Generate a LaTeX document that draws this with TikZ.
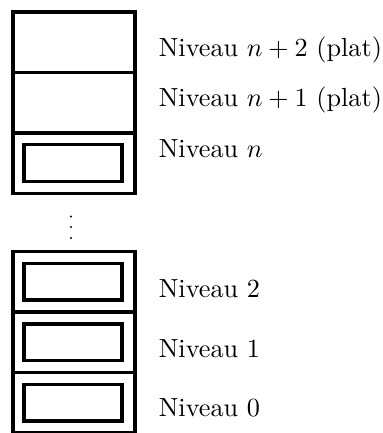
\documentclass[tikz,border=0pt]{standalone}
\begin{document}
\begin{tikzpicture}[x=0.3817pt,y=-0.3817pt,line width=1.4pt,
  niveau/.style={anchor=base west,inner sep=0pt}]
\useasboundingbox (0,0) rectangle (383,433);
\pgfmathsetmacro{\h}{60.5}
% upper stack: two flat levels and level n
\foreach \i in {0,1,2}
  \draw (13,12+\i*\h) rectangle (135,12+\i*\h+\h);
\draw (24,144.5) rectangle (122.3,181.5);
% lower stack: levels 2, 1, 0
\foreach \i in {0,1,2}{
  \draw (13,251.5+\i*\h) rectangle (135,251.5+\i*\h+\h);
  \draw (24,263.5+\i*\h) rectangle (122.3,300+\i*\h);
}
% dots between the stacks
\foreach \y in {216.5,227,238}
  \fill (71,\y) circle (1.1);
\node[niveau] (nplus2) at (157,56) {Niveau $n+2$ (plat)};
\node[niveau] (nplus1) at (157,106.5) {Niveau $n+1$ (plat)};
\node[niveau] (nn) at (157,157.5) {Niveau $n$};
\node[niveau] (n2) at (157,297) {Niveau $2$};
\node[niveau] (n1) at (157,357) {Niveau $1$};
\node[niveau] (n0) at (157,416) {Niveau $0$};
\end{tikzpicture}
\end{document}
